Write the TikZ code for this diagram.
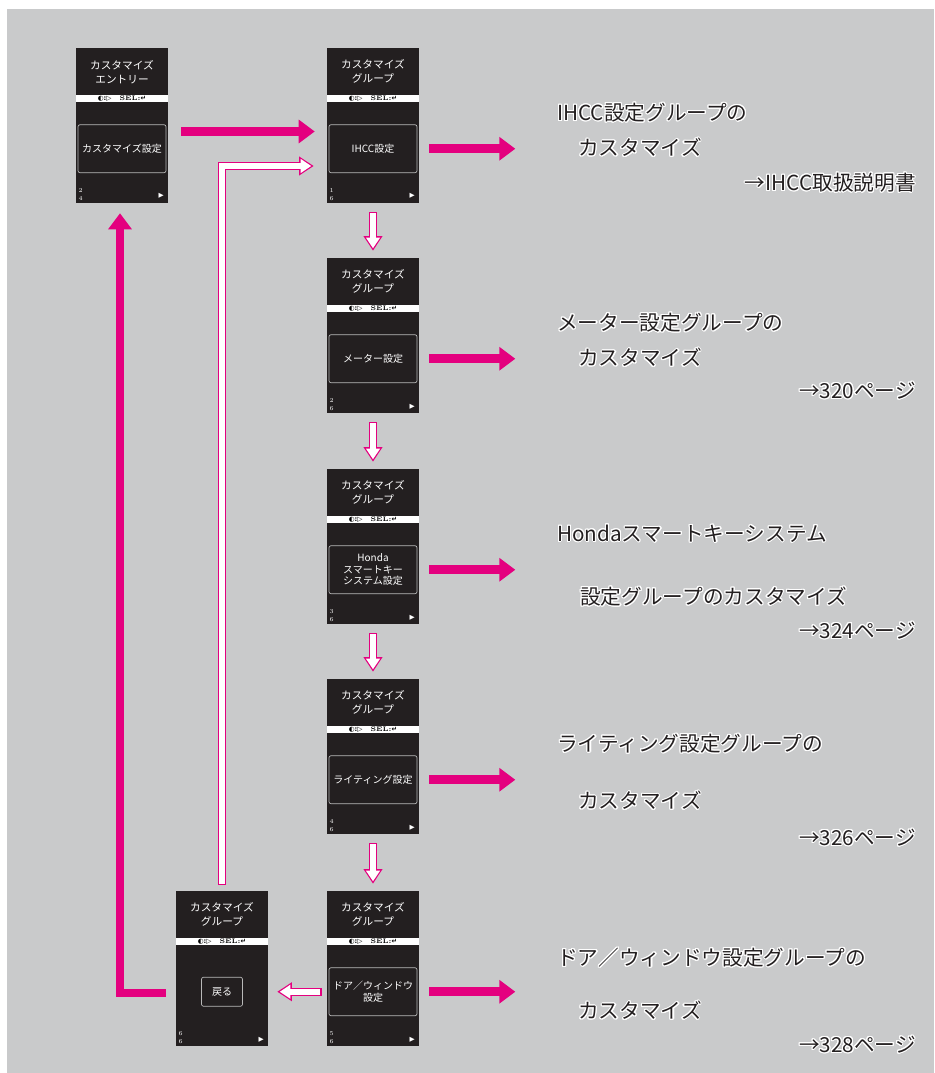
\documentclass[tikz,border=0pt]{standalone}
\usepackage{fontspec}
\newfontfamily\jp{Noto Sans CJK JP}
\newfontfamily\sym{DejaVu Sans}
\usepackage{contour}
\contourlength{0.8pt}
\usetikzlibrary{arrows.meta, positioning, calc}
\definecolor{pinkarrow}{HTML}{E4007F}
\definecolor{panelgray}{HTML}{C9CACB}
\definecolor{lcdblack}{HTML}{231F20}

\begin{document}
\begin{tikzpicture}[x=0.75pt, y=-0.75pt,
  scr/.style={fill=lcdblack, minimum width=69pt, minimum height=116.25pt, inner sep=0pt},
  ttl/.style={text=white, align=center, inner sep=0pt, font=\jp\fontsize{8}{10.5}\selectfont},
  strip/.style={fill=white, minimum width=69pt, minimum height=5pt, inner sep=0pt,
                font=\fontsize{5}{5}\selectfont},
  menu/.style={draw=gray!55, line width=0.5pt, rounded corners=1.5pt, fill=lcdblack, text=white,
               inner sep=0pt, align=center, font=\jp\fontsize{7.5}{8.5}\selectfont},
  pg/.style={text=white, inner sep=0pt, font=\fontsize{4.5}{3.8}\selectfont},
  pk/.style={draw=pinkarrow, line width=6.5pt, -{Triangle[width=17pt,length=12pt]}},
  hol/.style={draw=white, line width=4.4pt, shorten >=1.8pt, shorten <=0.9pt,
              -{Triangle[width=10pt,length=8pt]},
              preaction={draw=pinkarrow, line width=6.2pt, shorten >=0pt, shorten <=0pt,
                         -{Triangle[width=13.5pt,length=11pt]}}},
  lbl/.style={inner sep=0pt, text=lcdblack, font=\jp\fontsize{15.5}{18}\selectfont}]
  \useasboundingbox (0,0) rectangle (934,1073);
  \fill[panelgray] (7,9) rectangle (934,1073);
  % --- screens ---
  \foreach \i/\x/\yt/\tsub/\txt/\bw/\bh/\na/\nb in {
      0/122/48/エントリー/カスタマイズ設定/88/48/2/4,
      1/373/48/グループ/IHCC設定/88/48/1/6,
      2/373/258/グループ/メーター設定/88/48/2/6,
      3/373/469/グループ/{Honda\\スマートキー\\システム設定}/88/48/3/6,
      4/373/679/グループ/ライティング設定/88/48/4/6,
      5/373/891/グループ/{ドア／ウィンドウ\\設定}/88/48/5/6,
      6/222/891/グループ/戻る/41/29/6/6}{
    \node[scr] (s\i) at (\x,\yt+77.5) {};
    \node[ttl] (t\i) at ($(s\i.north)+(0,24)$) {カスタマイズ\\\tsub};
    \node[strip] (k\i) at ($(s\i.north)+(0,51)$) {{\sym\bfseries ◐:▷}\hspace{6pt}\textbf{SEL:}{\sym\bfseries ↵}};
    \node[menu, minimum width=\bw*0.75pt, minimum height=\bh*0.75pt] (b\i) at ($(s\i.north)+(0,101)$) {\txt};
    \node[pg] (p\i) at ($(s\i.south west)+(5,-9)$) {\shortstack{\na\\\nb}};
    \node[pg, font=\sym\fontsize{5}{5}\selectfont] (a\i) at ($(s\i.south east)+(-7,-7)$) {▶};
  }
  % --- flow between screens ---
  \draw[pk] ($(s0.east)+(13,6)$) -- ($(s1.west)+(-12,6)$);
  \draw[hol] ($(s6.north)+(0,-6)$) |- ($(s1.west)+(-13,40.5)$);
  \foreach \i [evaluate=\i as \j using int(\i+1)] in {1,...,4}{\draw[hol] ($(s\i.south)+(0,9)$) -- ($(s\j.north)+(0,-7)$);}
  \draw[hol] ($(b5.west)+(-7,0)$) -- ($(s6.east |- b5.west)+(9,0)$);
  \draw[pk, line width=6pt] ($(s6.west)+(-10,24)$) -| ($(s0.south)+(-2,10)$);
  \foreach \i in {1,...,5}{\draw[pk] ($(b\i.east)+(12,0)$) -- ++(86,0);}
  % --- group descriptions ---
  \node[lbl, anchor=west] (g1a) at (557,113) {\contour{white}{IHCC設定グループの}};
  \node[lbl, anchor=west] (g1b) at (578,148) {\contour{white}{カスタマイズ}};
  \node[lbl, anchor=east] (g1c) at (916,183) {\contour{white}{→IHCC取扱説明書}};
  \node[lbl, anchor=west] (g2a) at (557,323) {\contour{white}{メーター設定グループの}};
  \node[lbl, anchor=west] (g2b) at (578,358) {\contour{white}{カスタマイズ}};
  \node[lbl, anchor=east] (g2c) at (916,391) {\contour{white}{→320ページ}};
  \node[lbl, anchor=west] (g3a) at (557,534) {\contour{white}{Hondaスマートキーシステム}};
  \node[lbl, anchor=west] (g3b) at (580,597) {\contour{white}{設定グループのカスタマイズ}};
  \node[lbl, anchor=east] (g3c) at (916,631) {\contour{white}{→324ページ}};
  \node[lbl, anchor=west] (g4a) at (557,744) {\contour{white}{ライティング設定グループの}};
  \node[lbl, anchor=west] (g4b) at (578,801) {\contour{white}{カスタマイズ}};
  \node[lbl, anchor=east] (g4c) at (916,838) {\contour{white}{→326ページ}};
  \node[lbl, anchor=west] (g5a) at (557,958) {\contour{white}{ドア／ウィンドウ設定グループの}};
  \node[lbl, anchor=west] (g5b) at (578,1011) {\contour{white}{カスタマイズ}};
  \node[lbl, anchor=east] (g5c) at (916,1045) {\contour{white}{→328ページ}};
\end{tikzpicture}
\end{document}
